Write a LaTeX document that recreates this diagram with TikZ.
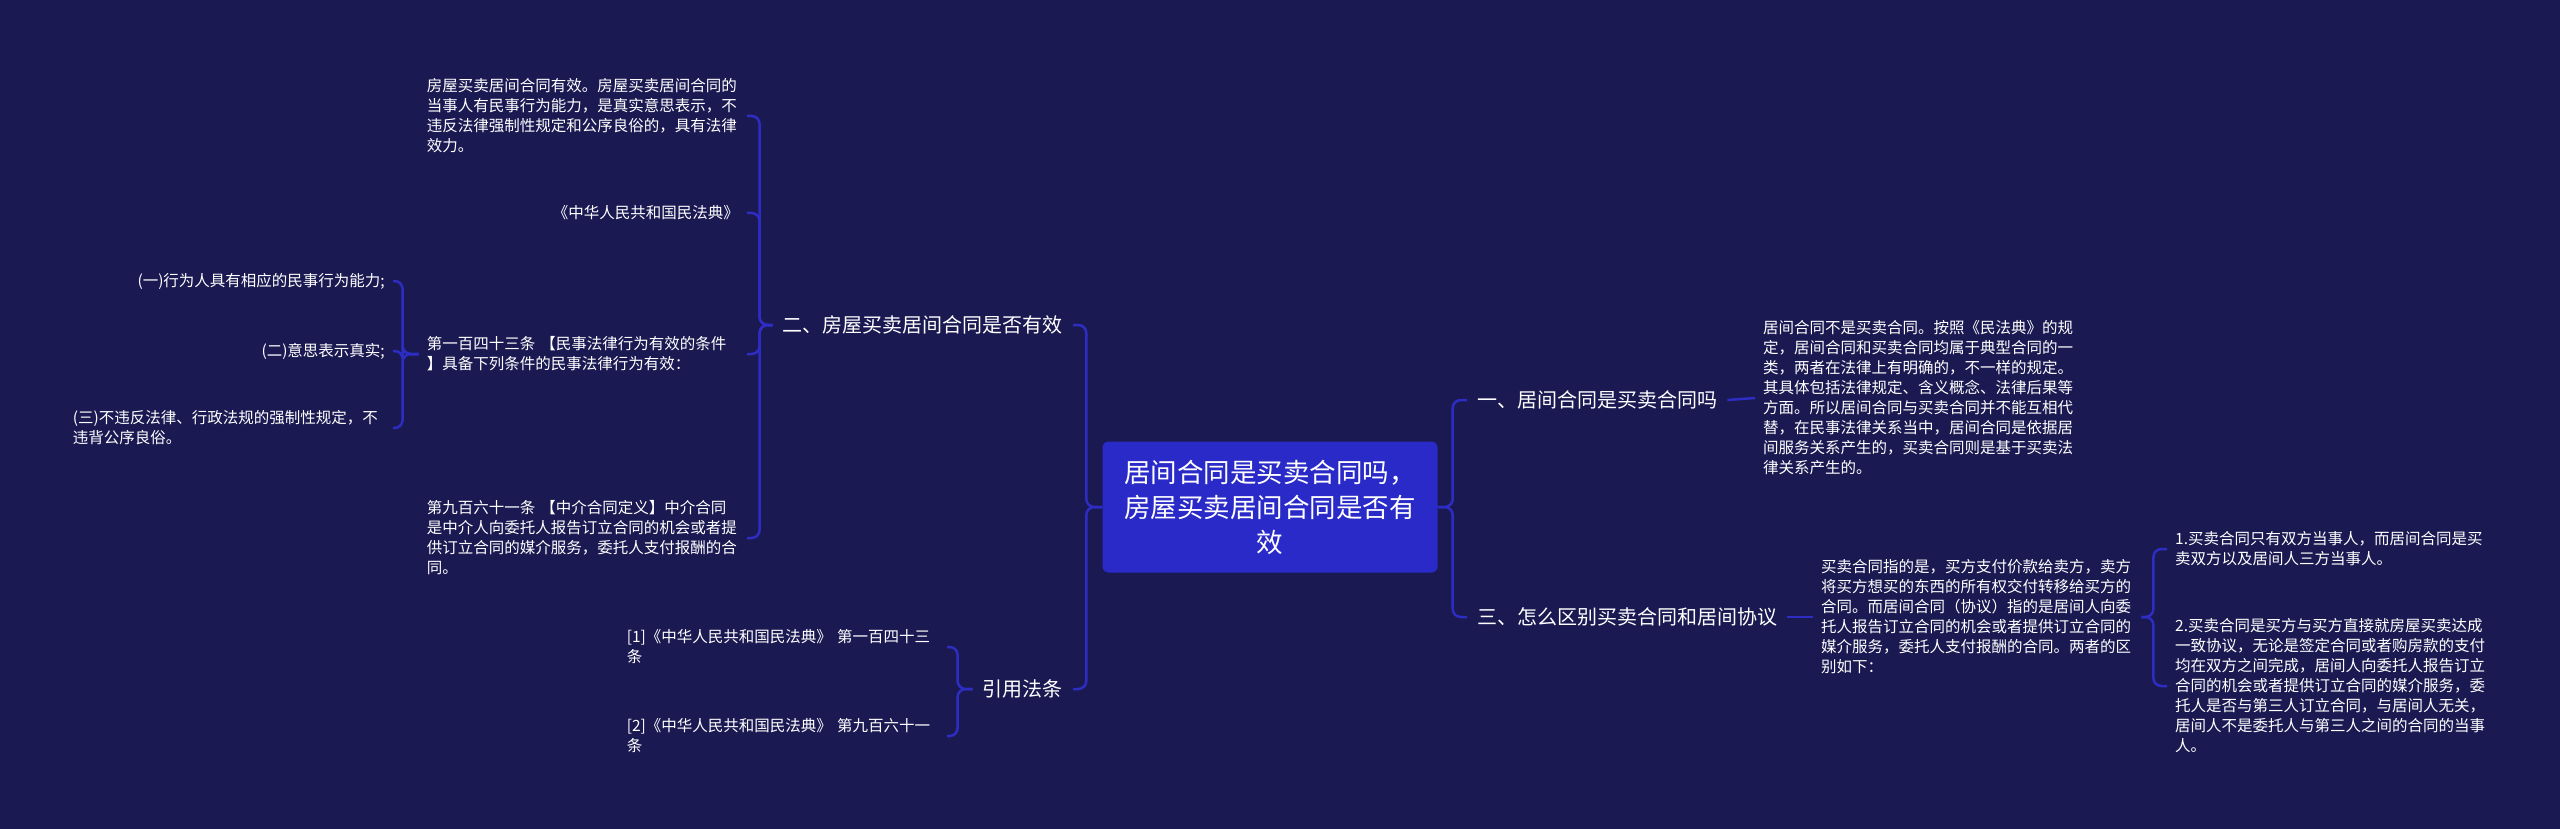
\documentclass[tikz,border=0pt]{standalone}
\usepackage{fontspec}
\setmainfont{Noto Sans CJK SC}
\definecolor{bg}{RGB}{27,25,82}
\definecolor{rootc}{RGB}{42,42,200}
\definecolor{linec}{RGB}{45,45,195}
\tikzset{
  rootbox/.style={fill=rootc, rounded corners=6pt, minimum width=335pt, minimum height=131pt, align=center, text=white, font=\fontsize{26.5}{35}\selectfont, inner sep=0pt},
  lone/.style={text=white, font=\fontsize{20}{26}\selectfont, inner xsep=10pt, inner ysep=2pt},
  leaf/.style={text=white, font=\fontsize{15.5}{20}\selectfont, inner xsep=8pt, inner ysep=2pt},
  para/.style={leaf, text width=312pt, align=left},
  conn/.style={draw=linec, line width=2.5pt, rounded corners=8pt}
}
\begin{document}
\begin{tikzpicture}[x=1pt,y=-1pt]
\path[fill=bg] (0,0) rectangle (2560,829);
\useasboundingbox (0,0) rectangle (2560,829);

% root
\node[rootbox] (root) at (1270,507) {居间合同是买卖合同吗，\\房屋买卖居间合同是否有\\效};

% level 1
\node[lone, anchor=east] (L2) at (1073,325) {二、房屋买卖居间合同是否有效};
\node[lone, anchor=east] (Lq) at (1073,689) {引用法条};
\node[lone, anchor=west] (R1) at (1467,400) {一、居间合同是买卖合同吗};
\node[lone, anchor=west] (R3) at (1467,617) {三、怎么区别买卖合同和居间协议};

% children of L2
\node[para, anchor=east] (A) at (747,116) {房屋买卖居间合同有效。房屋买卖居间合同的\\当事人有民事行为能力，是真实意思表示，不\\违反法律强制性规定和公序良俗的，具有法律\\效力。};
\node[leaf, anchor=east] (B) at (747,213) {《中华人民共和国民法典》};
\node[para, anchor=east] (C) at (747,354) {第一百四十三条 【民事法律行为有效的条件\\】具备下列条件的民事法律行为有效：};
\node[para, anchor=east] (D) at (747,538) {第九百六十一条 【中介合同定义】中介合同\\是中介人向委托人报告订立合同的机会或者提\\供订立合同的媒介服务，委托人支付报酬的合\\同。};

% children of C
\node[leaf, anchor=east] (c1) at (393,281) {(一)行为人具有相应的民事行为能力;};
\node[leaf, anchor=east] (c2) at (393,351) {(二)意思表示真实;};
\node[para, anchor=east] (c3) at (393,428) {(三)不违反法律、行政法规的强制性规定，不\\违背公序良俗。};

% children of Lq
\node[para, anchor=east] (q1) at (947,647) {[1]《中华人民共和国民法典》 第一百四十三\\条};
\node[para, anchor=east] (q2) at (947,736) {[2]《中华人民共和国民法典》 第九百六十一\\条};

% child of R1
\node[para, anchor=west] (R1c) at (1755,398) {居间合同不是买卖合同。按照《民法典》的规\\定，居间合同和买卖合同均属于典型合同的一\\类，两者在法律上有明确的，不一样的规定。\\其具体包括法律规定、含义概念、法律后果等\\方面。所以居间合同与买卖合同并不能互相代\\替，在民事法律关系当中，居间合同是依据居\\间服务关系产生的，买卖合同则是基于买卖法\\律关系产生的。};

% child of R3
\node[para, anchor=west] (R3c) at (1813,617) {买卖合同指的是，买方支付价款给卖方，卖方\\将买方想买的东西的所有权交付转移给买方的\\合同。而居间合同（协议）指的是居间人向委\\托人报告订立合同的机会或者提供订立合同的\\媒介服务，委托人支付报酬的合同。两者的区\\别如下：};

% children of R3c
\node[para, anchor=west] (k1) at (2167,549) {1.买卖合同只有双方当事人，而居间合同是买\\卖双方以及居间人三方当事人。};
\node[para, anchor=west] (k2) at (2167,686) {2.买卖合同是买方与买方直接就房屋买卖达成\\一致协议，无论是签定合同或者购房款的支付\\均在双方之间完成，居间人向委托人报告订立\\合同的机会或者提供订立合同的媒介服务，委\\托人是否与第三人订立合同，与居间人无关，\\居间人不是委托人与第三人之间的合同的当事\\人。};

% connectors
\draw[conn] (root.west) -- ++(-16,0) |- (L2.east);
\draw[conn] (root.west) -- ++(-16,0) |- (Lq.east);
\draw[conn] (root.east) -- ++(15,0) |- (R1.west);
\draw[conn] (root.east) -- ++(15,0) |- (R3.west);

\draw[conn] (L2.west) -- ++(-13,0) |- (A.east);
\draw[conn] (L2.west) -- ++(-13,0) |- (B.east);
\draw[conn] (L2.west) -- ++(-13,0) |- (C.east);
\draw[conn] (L2.west) -- ++(-13,0) |- (D.east);

\draw[conn] (C.west) -- ++(-16,0) |- (c1.east);
\draw[conn] (C.west) -- ++(-16,0) |- (c2.east);
\draw[conn] (C.west) -- ++(-16,0) |- (c3.east);

\draw[conn] (Lq.west) -- ++(-15,0) |- (q1.east);
\draw[conn] (Lq.west) -- ++(-15,0) |- (q2.east);

\draw[conn] (R1.east) -- (R1c.west);
\draw[conn] (R3.east) -- (R3c.west);

\draw[conn] (R3c.east) -- ++(12,0) |- (k1.west);
\draw[conn] (R3c.east) -- ++(12,0) |- (k2.west);
\end{tikzpicture}
\end{document}
